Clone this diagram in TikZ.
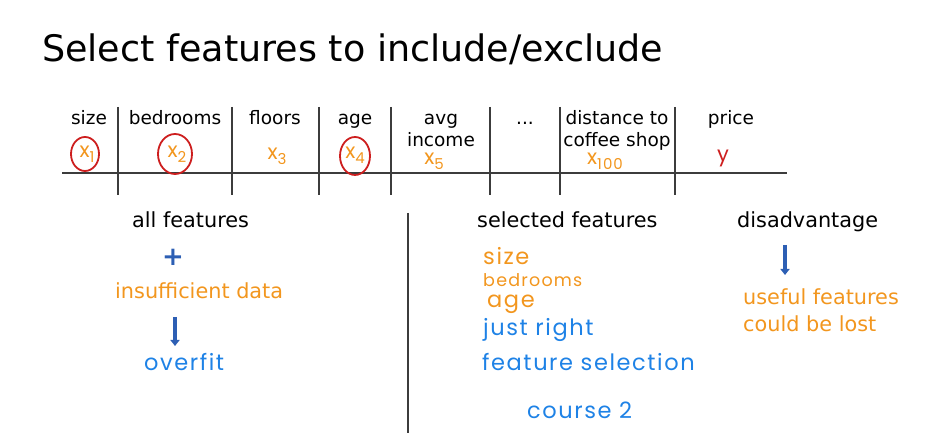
\documentclass[tikz,border=0pt]{standalone}
\usepackage{fontspec}
\setmainfont{DejaVu Sans}
\newfontfamily\handfont[LetterSpace=7]{Poppins}
\usetikzlibrary{arrows.meta}
\definecolor{hworange}{RGB}{242,150,30}
\definecolor{hwblue}{RGB}{30,130,230}
\definecolor{arrblue}{RGB}{45,95,180}
\definecolor{hwred}{RGB}{205,30,30}
\definecolor{rulegray}{RGB}{60,60,60}
\newcommand{\hsub}[1]{\raisebox{-0.45ex}{\fontsize{15}{15}\selectfont #1}}
\tikzset{
  hdr/.style={font=\fontsize{18.5}{22}\selectfont, align=center, anchor=base, inner sep=0pt},
  body/.style={font=\fontsize{20.8}{27}\selectfont, anchor=base west, inner sep=0pt},
  hw/.style={font=\handfont\fontsize{22.5}{26}\selectfont, inner sep=0pt},
  hwx/.style={font=\handfont\fontsize{21}{24}\selectfont, inner sep=0pt, text=hworange},
  hwo/.style={hw, text=hworange},
  hwb/.style={hw, text=hwblue},
  ring/.style={draw=hwred, line width=1.8pt},
  rule/.style={draw=rulegray, line width=1.2pt},
  downarr/.style={draw=arrblue, line width=3.4pt, -{Triangle[width=9pt,length=6pt]}}
}
\begin{document}
\begin{tikzpicture}[x=1pt,y=-1pt]
\useasboundingbox (0,0) rectangle (940,446);
% title
\node[font=\fontsize{36.5}{42}\selectfont, anchor=base west, inner sep=0pt] (title) at (42,62) {Select features to include/exclude};
% table rules
\coordinate (hl) at (62,173); \coordinate (hr) at (787,173);
\draw[rule] (hl) -- (hr);
\foreach \i/\x in {1/118,2/232,3/319,4/391,5/490,6/560,7/675}{
  \coordinate (vt\i) at (\x,107); \coordinate (vb\i) at (\x,195);
  \draw[rule] (vt\i) -- (vb\i);
}
% headers
\node[hdr] (h1) at (89,125) {size};
\node[hdr] (h2) at (175,125) {bedrooms};
\node[hdr] (h3) at (275,125) {floors};
\node[hdr] (h4) at (355,125) {age};
\node[hdr] (h5) at (441,147) {avg\\income};
\node[hdr] (h6) at (525,125) {...};
\node[hdr] (h7) at (617,147) {distance to\\coffee shop};
\node[hdr] (h8) at (731,125) {price};
% feature symbols
\node[hwx] (x1) at (87,154) {x\hsub{1}};
\node[hwx] (x2) at (177,154) {x\hsub{2}};
\node[hwx] (x3) at (277,156) {x\hsub{3}};
\node[hwx] (x4) at (355,155) {x\hsub{4}};
\node[hwx] (x5) at (434,161) {x\hsub{5}};
\node[hwx] (x100) at (605,161) {x\hsub{100}};
\node[hwx, text=hwred] (y) at (723,158) {y};
\draw[ring] (85,154) ellipse [x radius=14pt, y radius=17pt];
\draw[ring] (175,154) ellipse [x radius=17pt, y radius=20pt];
\draw[ring] (355,156) ellipse [x radius=15pt, y radius=19pt];
% separator
\coordinate (st) at (408,213); \coordinate (sb) at (408,433);
\draw[rule] (st) -- (sb);
% left column
\node[body] (allf) at (132,228) {all features};
\node[text=arrblue, font=\bfseries\fontsize{26}{26}\selectfont, inner sep=0pt] (plus) at (173,257) {+};
\node[body, text=hworange] (insuf) at (115,299) {insufficient data};
\coordinate (a1t) at (175,317);
\coordinate (a1b) at (175,346);
\draw[downarr] (a1t) -- (a1b);
\node[hwb, anchor=west] (overfit) at (144,362) {overfit};
% middle column
\node[body] (self) at (477,228) {selected features};
\node[hwo, anchor=west] (s1) at (483,256) {size};
\node[hwo, anchor=west, font=\handfont\fontsize{17.5}{20}\selectfont] (s2) at (483,280) {bedrooms};
\node[hwo, anchor=west] (s3) at (487,304) {age};
\node[hwb, anchor=west] (s4) at (483,330) {just right};
\node[hwb, anchor=west] (s5) at (482,362) {feature selection};
\node[hwb, anchor=west] (s6) at (527,410) {course 2};
% right column
\node[body] (dis) at (737,228) {disadvantage};
\coordinate (a2t) at (785,245);
\coordinate (a2b) at (785,275);
\draw[downarr] (a2t) -- (a2b);
\node[body, text=hworange] (useful1) at (743,305) {useful features};
\node[body, text=hworange] (useful2) at (743,332) {could be lost};
\end{tikzpicture}
\end{document}
